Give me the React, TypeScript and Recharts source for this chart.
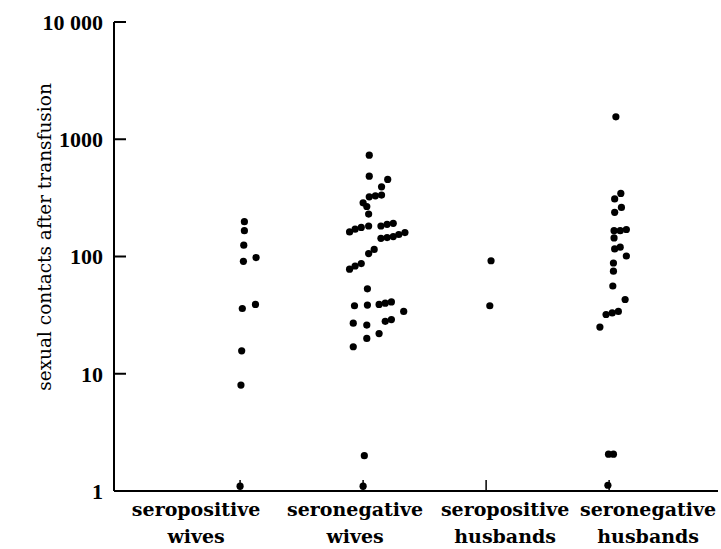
import { ScatterChart, Scatter, XAxis, YAxis } from "recharts";

// category names (two text lines each)
const categories = [
  ["seropositive", "wives"],
  ["seronegative", "wives"],
  ["seropositive", "husbands"],
  ["seronegative", "husbands"],
];

const yTicks = [1, 10, 100, 1000, 10000];

// contacts per person, with the horizontal spread used in the original
const seropositiveWives = [198, 166, 125, 98, 91, 39, 36, 15.7, 8, 1.1];
const seropositiveWivesSpread = [0.035, 0.035, 0.03, 0.13, 0.027, 0.125, 0.018, 0.013, 0.007, 0];

const seronegativeWives = [
  732, 484, 454, 393, 323, 329, 334, 287, 267, 230, 162, 171, 177, 182, 182, 188, 192, 143, 145, 148,
  154, 160, 115, 106, 87, 83, 78, 53, 38, 38.5, 39, 40, 41, 34, 27, 26, 28, 29, 22, 20, 17, 2, 1.1,
];
const seronegativeWivesSpread = [
  0.05, 0.05, 0.2, 0.15, 0.05, 0.1, 0.15, 0, 0.03, 0.045, -0.11, -0.065, -0.015, 0.045, 0.145, 0.195,
  0.245, 0.145, 0.195, 0.245, 0.29, 0.34, 0.09, 0.045, -0.015, -0.065, -0.11, 0.035, -0.07, 0.035,
  0.13, 0.18, 0.23, 0.33, -0.08, 0.03, 0.18, 0.23, 0.13, 0.03, -0.08, 0.01, 0,
];

const seropositiveHusbands = [92, 38];
const seropositiveHusbandsSpread = [0.04, 0.03];

const seronegativeHusbands = [
  1552, 345, 310, 262, 238, 170, 166, 166, 144, 120, 116, 101, 88, 75, 56, 43, 34, 33, 32, 25, 2.06,
  2.06, 1.12,
];
const seronegativeHusbandsSpread = [
  0.055, 0.095, 0.045, 0.1, 0.045, 0.14, 0.09, 0.04, 0.04, 0.09, 0.045, 0.14, 0.035, 0.035, 0.03, 0.13,
  0.075, 0.025, -0.025, -0.075, -0.005, 0.035, -0.01,
];

const toPoints = (group: number, values: number[], spread: number[]) =>
  values.map((v, i) => ({ x: group + spread[i], y: v }));

// label centres sit off the tick marks in the original
const labelShift = [-44, -8, 19, 39];

const Dot = (props: any) => <circle cx={props.cx} cy={props.cy} r={3.6} fill="#000" />;

function CategoryTick(props: any) {
  const { x, y, payload } = props;
  const idx = Math.round(payload.value) - 1;
  const lines = categories[idx];
  if (!lines) return null;
  const cx = x + labelShift[idx];
  return (
    <text
      x={cx}
      y={y + 25}
      textAnchor="middle"
      fontFamily="DejaVu Serif"
      fontWeight="bold"
      fontSize={19}
      fill="#000"
    >
      <tspan x={cx}>{lines[0]}</tspan>
      <tspan x={cx} dy={27}>
        {lines[1]}
      </tspan>
    </text>
  );
}

function AxisTitle(props: any) {
  const vb = props.viewBox || { x: 14, y: 22, height: 469 };
  const cx = vb.x + 30;
  const cy = vb.y + 215;
  return (
    <text
      x={cx}
      y={cy}
      transform={`rotate(-90, ${cx}, ${cy})`}
      textAnchor="middle"
      dominantBaseline="central"
      fontFamily="DejaVu Serif"
      fontSize={18.5}
      fill="#000"
    >
      sexual contacts after transfusion
    </text>
  );
}

export default function App() {
  return (
    <div style={{ position: "absolute", left: 0, top: 0, background: "#fff" }}>
      <ScatterChart width={721} height={549} margin={{ top: 22, right: 3, bottom: 0, left: 14 }}>
        <XAxis
          type="number"
          dataKey="x"
          domain={[-0.025, 4.885]}
          ticks={[1, 2, 3, 4]}
          interval={0}
          allowDataOverflow
          height={58}
          stroke="#000"
          axisLine={{ stroke: "#000", strokeWidth: 2 }}
          tickLine={{ stroke: "#000", strokeWidth: 1.5 }}
          tickSize={-11}
          tickMargin={11}
          tick={(p: any) => <CategoryTick {...p} />}
        />
        <YAxis
          type="number"
          dataKey="y"
          scale="log"
          domain={[1, 10000]}
          ticks={yTicks}
          interval={0}
          allowDataOverflow
          width={100}
          stroke="#000"
          axisLine={{ stroke: "#000", strokeWidth: 2 }}
          tickLine={{ stroke: "#000", strokeWidth: 2 }}
          tickSize={-12}
          tickMargin={23}
          tick={{
            fill: "#000",
            fontFamily: "Liberation Serif",
            fontWeight: "bold",
            fontSize: 22,
          }}
          tickFormatter={(v: number) => (v === 10000 ? "10 000" : String(v))}
          label={<AxisTitle />}
        />
        <Scatter
          data={toPoints(1, seropositiveWives, seropositiveWivesSpread)}
          shape={<Dot />}
          isAnimationActive={false}
        />
        <Scatter
          data={toPoints(2, seronegativeWives, seronegativeWivesSpread)}
          shape={<Dot />}
          isAnimationActive={false}
        />
        <Scatter
          data={toPoints(3, seropositiveHusbands, seropositiveHusbandsSpread)}
          shape={<Dot />}
          isAnimationActive={false}
        />
        <Scatter
          data={toPoints(4, seronegativeHusbands, seronegativeHusbandsSpread)}
          shape={<Dot />}
          isAnimationActive={false}
        />
      </ScatterChart>
    </div>
  );
}
